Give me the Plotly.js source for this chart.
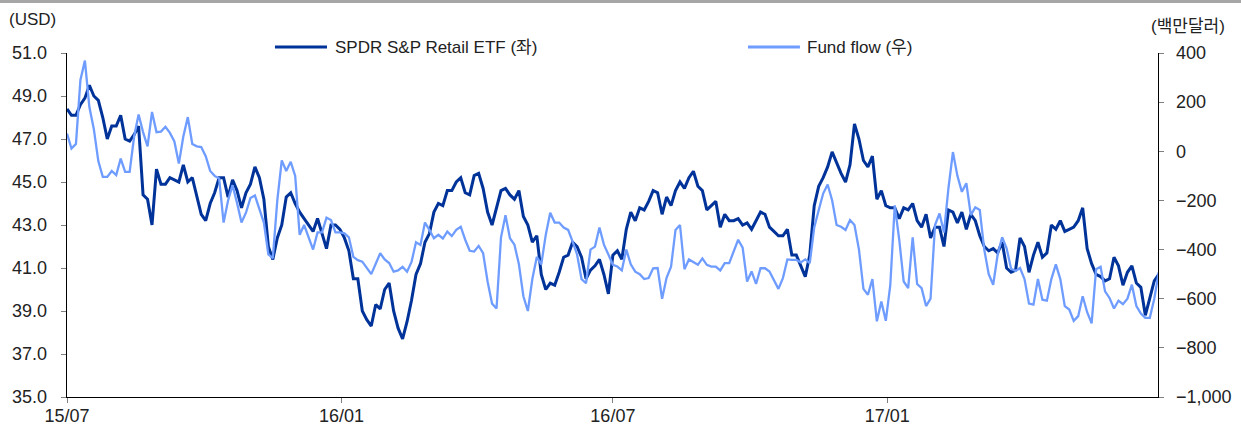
<!DOCTYPE html>
<html>
<head>
<meta charset="utf-8">
<script src="https://cdn.plot.ly/plotly-3.0.1.min.js"></script>
<style>
  body { margin: 0; background: #fff; }
  #topline { width: 1241px; height: 3px; background: #a6a6a6; }
  #chart { width: 1241px; height: 422px; }
</style>
</head>
<body>
<div id="topline"></div>
<div id="chart"></div>
<script>
// Sampled every 3 days starting 2015-07-01
const START_DATE = '2015-07-01';
const STEP_DAYS = 3;

// SPDR S&P Retail ETF price (USD, left axis)
const etfPrice = [
    48.4, 48.1, 48.1, 48.6, 48.9, 49.5, 49.0, 48.8, 48.0, 47.0,
    47.6, 47.6, 48.1, 47.0, 46.9, 47.2, 47.6, 44.4, 44.2, 43.0,
    45.6, 44.9, 44.9, 45.2, 45.1, 45.0, 45.8, 45.0, 45.2, 44.4,
    43.5, 43.2, 44.0, 44.5, 45.2, 45.2, 44.3, 45.1, 44.6, 43.8,
    44.5, 44.9, 45.7, 45.2, 44.2, 42.0, 41.4, 42.4, 43.0, 44.3,
    44.5, 44.0, 43.6, 43.3, 43.0, 42.7, 43.3, 42.6, 41.9, 43.0,
    43.0, 42.8, 42.4, 41.8, 40.5, 40.5, 39.0, 38.6, 38.3, 39.3,
    39.1, 40.0, 40.3, 39.0, 38.2, 37.7, 38.5, 39.5, 40.7, 41.2,
    42.2, 42.6, 43.6, 44.0, 43.9, 44.6, 44.6, 45.0, 45.2, 44.5,
    44.4, 45.3, 45.4, 44.7, 43.6, 43.0, 43.8, 44.6, 44.7, 44.4,
    44.2, 44.6, 43.4, 43.0, 42.2, 42.5, 40.7, 40.0, 40.3, 40.2,
    40.8, 41.5, 41.6, 42.2, 42.0, 41.5, 40.5, 40.9, 41.1, 41.4,
    40.7, 39.8, 41.6, 41.8, 41.4, 42.8, 43.6, 43.2, 43.8, 43.7,
    44.1, 44.6, 44.5, 43.5, 44.3, 43.9, 44.6, 45.0, 44.7, 45.2,
    45.5, 44.8, 44.6, 43.7, 43.9, 44.1, 42.9, 43.5, 43.2, 43.2,
    43.3, 43.0, 43.1, 42.8, 43.2, 43.6, 43.5, 42.9, 42.7, 42.5,
    42.5, 42.8, 41.6, 41.6, 41.1, 40.6, 41.6, 43.9, 44.8, 45.2,
    45.7, 46.4, 45.9, 45.4, 45.0, 45.8, 47.7, 47.0, 46.0, 45.7,
    46.2, 44.2, 44.6, 43.9, 43.8, 43.8, 43.3, 43.8, 43.7, 44.0,
    43.2, 42.9, 43.5, 42.4, 42.9, 42.9, 42.0, 43.7, 43.6, 43.1,
    43.6, 42.8, 43.5, 43.2, 42.5, 42.0, 41.8, 41.9, 41.7, 42.2,
    41.0, 40.8, 40.9, 42.4, 42.0, 40.8, 41.6, 42.2, 41.5, 41.7,
    43.0, 42.8, 43.2, 42.7, 42.8, 42.9, 43.2, 43.8, 41.9, 41.2,
    40.7, 40.6, 40.4, 40.5, 41.5, 41.1, 40.2, 40.8, 41.1, 40.3,
    40.1, 38.8, 39.6, 40.4, 40.7
];

// Fund flow (USD mn, right axis)
const fundFlow = [
    72, 11, 30, 290, 369, 180, 90, -40, -104, -104,
    -80, -97, -30, -84, -84, 60, 150, 78, 20, 160,
    78, 80, 100, 75, 40, -50, 60, 139, 30, 20,
    17, -20, -80, -100, -111, -290, -200, -138, -210, -290,
    -250, -190, -180, -233, -290, -420, -435, -200, -37, -80,
    -43, -100, -340, -300, -350, -400, -330, -330, -270, -280,
    -330, -330, -334, -350, -430, -443, -449, -476, -500, -458,
    -415, -440, -455, -490, -485, -470, -490, -450, -370, -381,
    -290, -320, -354, -340, -355, -327, -345, -320, -307, -360,
    -405, -408, -385, -415, -530, -620, -640, -350, -260, -354,
    -380, -460, -590, -650, -520, -430, -460, -340, -250, -290,
    -290, -310, -320, -368, -420, -520, -537, -400, -388, -310,
    -380, -420, -462, -469, -485, -400, -460, -490, -500, -520,
    -516, -476, -475, -600, -515, -470, -320, -300, -480, -440,
    -450, -462, -436, -462, -469, -469, -485, -455, -455, -410,
    -360, -392, -530, -489, -540, -476, -476, -489, -523, -560,
    -516, -440, -442, -442, -452, -440, -455, -310, -240, -172,
    -135, -199, -300, -307, -320, -280, -300, -400, -560, -584,
    -520, -692, -611, -690, -545, -220, -360, -530, -557, -350,
    -540, -557, -630, -600, -300, -253, -330, -150, -3, -100,
    -165, -130, -260, -228, -239, -400, -500, -543, -420, -350,
    -395, -478, -487, -475, -520, -620, -624, -520, -604, -608,
    -520, -460, -520, -630, -644, -690, -671, -590, -655, -700,
    -480, -470, -570, -597, -640, -608, -622, -600, -543, -630,
    -660, -678, -678, -600, -492
];

const xTickVals = ['2015-07-01', '2016-01-01', '2016-07-01', '2017-01-01'];
const xTickText = ['15/07', '16/01', '16/07', '17/01'];
const seriesNames = ['SPDR S&P Retail ETF (좌)', 'Fund flow (우)'];
const leftTitle = '(USD)';
const rightTitle = '(백만달러)';

const DARK = '#003399';
const LIGHT = '#6f9cff';
const TICK_FONT = { family: 'Liberation Sans Narrow, Arial Narrow, sans-serif', size: 18, color: '#222' };
const TEXT_FONT = { family: 'Liberation Sans, Arial, Noto Sans CJK KR, sans-serif', size: 17, color: '#222' };

// build the date grid
const dates = etfPrice.map((_, i) => {
    const d = new Date(START_DATE + 'T00:00:00Z');
    d.setUTCDate(d.getUTCDate() + i * STEP_DAYS);
    return d.toISOString().slice(0, 10);
});

const traces = [
    {
        x: dates, y: etfPrice, name: seriesNames[0], yaxis: 'y',
        mode: 'lines', line: { color: DARK, width: 3 }, showlegend: false
    },
    {
        x: dates, y: fundFlow, name: seriesNames[1], yaxis: 'y2',
        mode: 'lines', line: { color: LIGHT, width: 2.3 }, showlegend: false
    }
];

// plot area in px: x 67..1158, y 53..397 (page coords)
const layout = {
    width: 1241,
    height: 422,
    margin: { l: 67, r: 83, t: 50, b: 28 },
    paper_bgcolor: '#fff',
    plot_bgcolor: '#fff',
    xaxis: {
        type: 'date',
        range: ['2015-07-01', '2017-07-01 12:00'],
        tickmode: 'array',
        tickvals: xTickVals,
        ticktext: xTickText,
        ticks: 'outside', ticklen: 5, tickcolor: '#808080',
        showline: true, linecolor: '#000', linewidth: 1.3,
        showgrid: false, zeroline: false,
        tickfont: TICK_FONT,
        ticklabelstandoff: -3
    },
    yaxis: {
        range: [35, 51],
        dtick: 2, tick0: 35,
        tickformat: '.1f',
        ticks: 'outside', ticklen: 5, tickcolor: '#808080',
        showline: true, linecolor: '#000', linewidth: 1.3,
        showgrid: false, zeroline: false,
        tickfont: TICK_FONT,
        ticklabelstandoff: 10
    },
    yaxis2: {
        overlaying: 'y', side: 'right',
        range: [-1000, 400],
        dtick: 200, tick0: -1000,
        tickformat: ',d',
        ticks: 'outside', ticklen: 5, tickcolor: '#808080',
        showline: true, linecolor: '#000', linewidth: 1.3,
        showgrid: false, zeroline: false,
        tickfont: TICK_FONT,
        ticklabelstandoff: 8
    },
    shapes: [
        { type: 'line', xref: 'paper', yref: 'paper', x0: 0.1906, x1: 0.2383, y0: 1.0174, y1: 1.0174,
          line: { color: DARK, width: 3 } },
        { type: 'line', xref: 'paper', yref: 'paper', x0: 0.6242, x1: 0.6718, y0: 1.0174, y1: 1.0174,
          line: { color: LIGHT, width: 3 } }
    ],
    annotations: [
        { text: seriesNames[0], xref: 'paper', yref: 'paper', x: 0.2438, y: 1.0174,
          xanchor: 'left', yanchor: 'middle', showarrow: false, font: TEXT_FONT },
        { text: seriesNames[1], xref: 'paper', yref: 'paper', x: 0.6764, y: 1.0174,
          xanchor: 'left', yanchor: 'middle', showarrow: false, font: TEXT_FONT },
        { text: leftTitle, xref: 'paper', yref: 'paper', x: -0.0312, y: 1.096,
          xanchor: 'center', yanchor: 'middle', showarrow: false, font: TEXT_FONT },
        { text: rightTitle, xref: 'paper', yref: 'paper', x: 1.0275, y: 1.0756,
          xanchor: 'center', yanchor: 'middle', showarrow: false, font: TEXT_FONT }
    ]
};

Plotly.newPlot('chart', traces, layout, { displayModeBar: false, staticPlot: true });
</script>
</body>
</html>
